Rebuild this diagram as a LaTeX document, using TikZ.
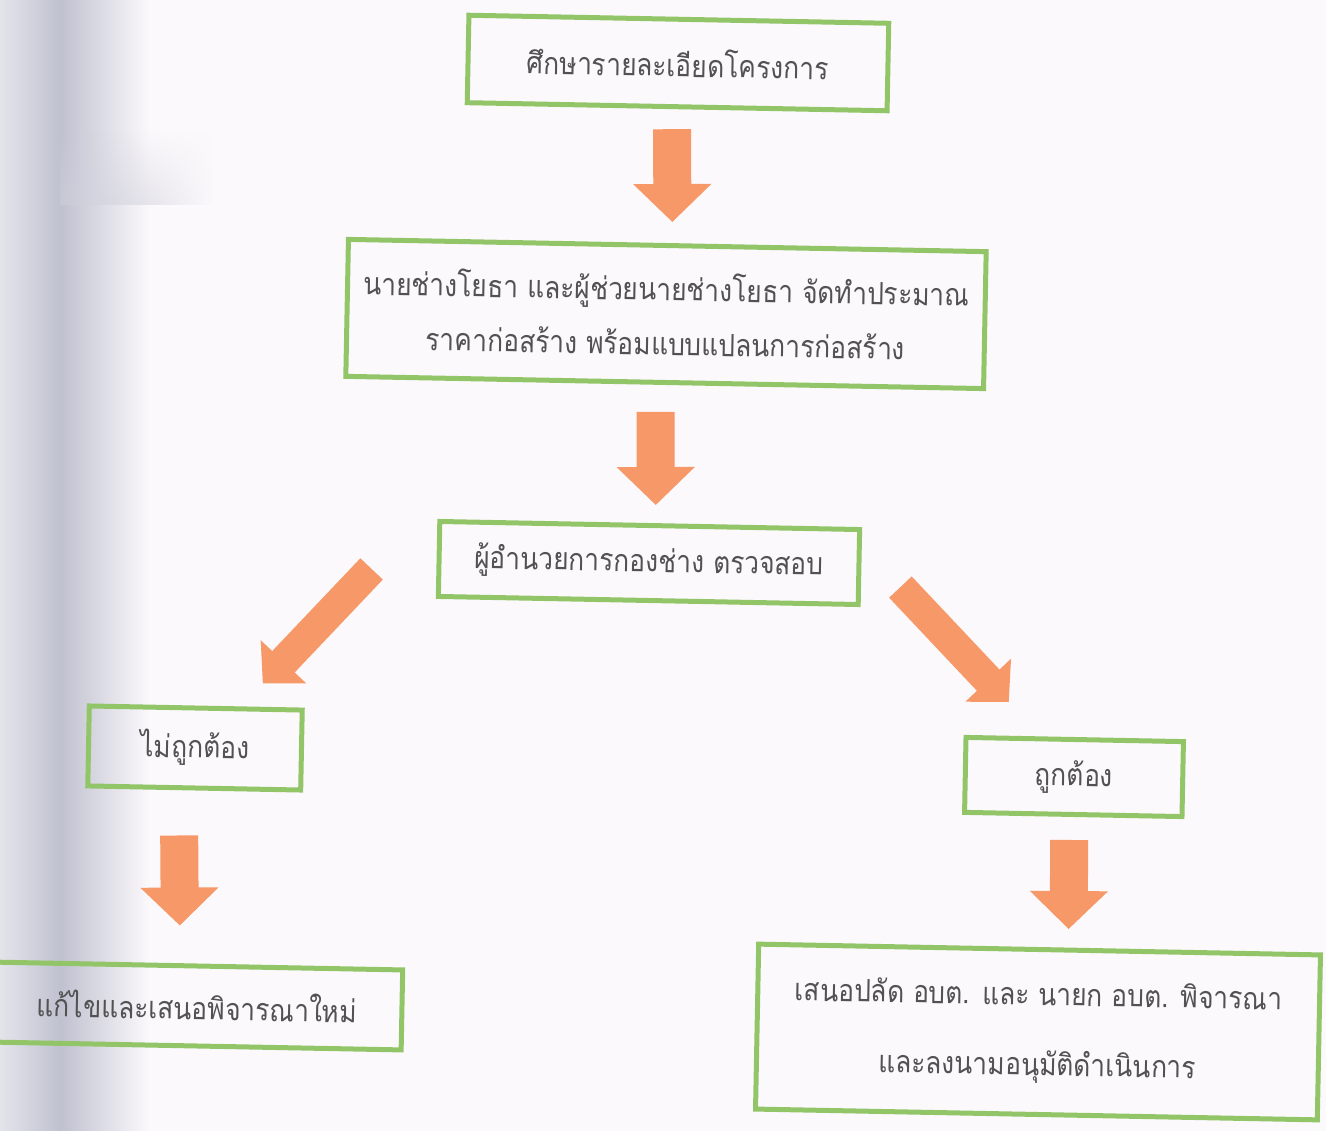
\documentclass[tikz,border=0pt]{standalone}
\usepackage{fontspec}
\usepackage{tikz}
\usetikzlibrary{arrows.meta,calc,fadings}
\newfontfamily\thaifont[Script=Thai,FakeStretch=0.86]{Loma}
\definecolor{boxgreen}{RGB}{146,196,104}
\definecolor{flowarrow}{RGB}{247,152,104}
\definecolor{paper}{RGB}{252,249,252}
\definecolor{shadowgray}{RGB}{176,178,196}

\begin{document}
\begin{tikzpicture}[x=0.02cm, y=-0.02cm,
  every node/.style={font=\thaifont\fontsize{17.5}{31}\selectfont, text=black!68},
  stepbox/.style={draw=boxgreen, line width=0.1cm, rotate=-1.1, align=center, inner sep=0pt},
  flow/.style={flowarrow, line width=0.76cm, -{Triangle[length=0.76cm, width=1.52cm]}},
  sideflow/.style={flowarrow, line width=0.62cm, -{Triangle[length=0.6cm, width=1.22cm]}}]
\useasboundingbox (0,0) rectangle (1326,1131);
\fill[paper] (0,0) rectangle (1326,1131);
\shade[left color=shadowgray!35, right color=shadowgray!80] (0,0) rectangle (60,1131);
\shade[left color=shadowgray!80, right color=paper] (60,0) rectangle (150,1131);
\shade[left color=shadowgray!70, right color=paper, path fading=north] (60,130) rectangle (215,205);

\node[stepbox, minimum width=8.4cm, minimum height=1.75cm] (study) at (678,63) {ศึกษารายละเอียดโครงการ};
\node[stepbox, minimum width=12.76cm, minimum height=2.74cm] (estimate) at (666,314)
  {นายช่างโยธา และผู้ช่วยนายช่างโยธา จัดทำประมาณ\\ราคาก่อสร้าง พร้อมแบบแปลนการก่อสร้าง};
\node[stepbox, minimum width=8.4cm, minimum height=1.5cm] (check) at (649,563) {ผู้อำนวยการกองช่าง ตรวจสอบ};
\node[stepbox, minimum width=4.26cm, minimum height=1.6cm] (wrong) at (195,748) {ไม่ถูกต้อง};
\node[stepbox, minimum width=4.35cm, minimum height=1.5cm] (right) at (1074,777) {ถูกต้อง};
\node[stepbox, minimum width=8.2cm, minimum height=1.6cm] (revise) at (197,1006) {แก้ไขและเสนอพิจารณาใหม่};
\node[stepbox, minimum width=11.24cm, minimum height=3.3cm, font=\thaifont\fontsize{17.5}{40}\selectfont] (approve) at (1038,1032)
  {เสนอปลัด อบต. และ นายก อบต. พิจารณา\\และลงนามอนุมัติดำเนินการ};

\draw[flow] ($(study.south)+(-5,20)$) -- ($(estimate.north)+(5,-21)$);
\draw[flow] ($(estimate.south)+(-9,27)$) -- ($(check.north)+(6,-18)$);
\draw[sideflow] ($(check.west)+(-65,10)$) -- ($(wrong.north)+(67,-22)$);
\draw[sideflow] ($(check.east)+(39,20)$) -- ($(right.north)+(-66,-35)$);
\draw[flow] ($(wrong.south)+(-15,45)$) -- ($(revise.north)+(-18,-38)$);
\draw[flow] ($(right.south)+(-4,23)$) -- ($(approve.north)+(29,-18)$);
\end{tikzpicture}
\end{document}
